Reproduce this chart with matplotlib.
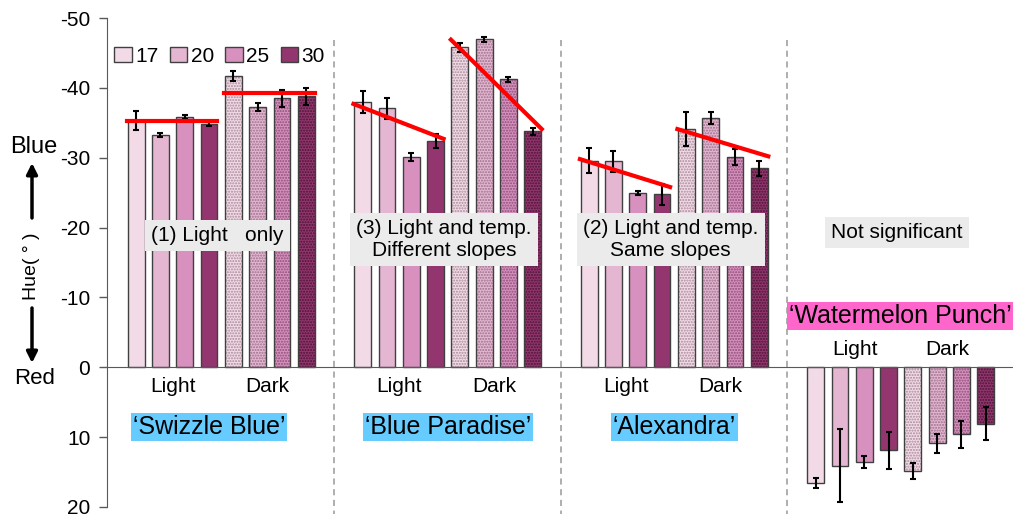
import numpy as np
import matplotlib
matplotlib.use('Agg')
import matplotlib.pyplot as plt
from matplotlib.patches import Patch

plt.rcParams['font.family'] = ['Liberation Sans', 'DejaVu Sans']
plt.rcParams['axes.unicode_minus'] = False
plt.rcParams['hatch.linewidth'] = 1.0

# data (hue in degrees)
temps = ['17', '20', '25', '30']
cultivars = ['\u2018Swizzle Blue\u2019', '\u2018Blue Paradise\u2019', '\u2018Alexandra\u2019',
             '\u2018Watermelon Punch\u2019']
hue_light = [[-35.3, -33.3, -35.8, -34.8],
             [-37.95, -37.1, -30.1, -32.4],
             [-29.6, -29.5, -25.0, -24.8],
             [16.6, 14.1, 13.6, 11.9]]
err_light = [[1.4, 0.3, 0.3, 0.3],
             [1.6, 1.5, 0.6, 1.0],
             [1.75, 1.5, 0.3, 1.5],
             [0.75, 5.2, 0.85, 2.6]]
hue_dark = [[-41.7, -37.3, -38.5, -38.8],
            [-45.8, -46.95, -41.2, -33.8],
            [-34.1, -35.7, -30.1, -28.5],
            [14.9, 10.9, 9.6, 8.05]]
err_dark = [[0.65, 0.6, 1.2, 1.2],
            [0.65, 0.35, 0.3, 0.5],
            [2.4, 0.85, 1.15, 1.05],
            [1.15, 1.35, 1.95, 2.3]]
# regression lines (start, end) for the three significant cultivars
fit_light = [(-35.3, -35.3), (-37.7, -32.7), (-29.8, -25.8)]
fit_dark = [(-39.3, -39.3), (-46.9, -34.1), (-34.1, -30.2)]
sig_labels = ['(1) Light   only', '(3) Light and temp.\nDifferent slopes',
              '(2) Light and temp.\nSame slopes', 'Not significant']

colors = ['#f2dbe7', '#e5b6d2', '#d891bf', '#93366f']
dots = ['#a88a98', '#9a7088', '#8a4f76', '#4a1434']
edge = '#404040'

fig = plt.figure(figsize=(10.13, 5.14), dpi=100)
ax = fig.add_axes([107 / 1013, 7 / 514, 906 / 1013, 489 / 514])

gstep = 9.32
w = 0.69
for g in range(4):
    x0 = g * gstep
    xl = x0 + np.arange(4)
    xd = x0 + 4 + np.arange(4)
    ax.bar(xl, hue_light[g], w, color=colors, edgecolor=edge, linewidth=1, zorder=2)
    ax.bar(xd, hue_dark[g], w, color=colors, edgecolor=dots, hatch='......', linewidth=0, zorder=2)
    ax.bar(xd, hue_dark[g], w, fill=False, edgecolor=edge, linewidth=1, zorder=2)
    ax.errorbar(xl, hue_light[g], yerr=err_light[g], fmt='none', ecolor='black',
                elinewidth=1.5, capsize=2.5, capthick=1.5, zorder=3)
    ax.errorbar(xd, hue_dark[g], yerr=err_dark[g], fmt='none', ecolor='black',
                elinewidth=1.5, capsize=2.5, capthick=1.5, zorder=3)
    if g < 3:
        ax.plot([x0 - 0.38, x0 + 3.33], fit_light[g], color='red', lw=3, zorder=4)
        ax.plot([x0 + 3.63, x0 + 7.37], fit_dark[g], color='red', lw=3, zorder=4)
        ax.text(x0 + 1.5, 2.7, 'Light', ha='center', va='center', fontsize=15)
        ax.text(x0 + 5.4, 2.7, 'Dark', ha='center', va='center', fontsize=15)
        cx = x0 + (3.0 if g == 0 else 3.5)
        ax.text(cx, 8.6, cultivars[g], ha='center', va='center', fontsize=18,
                bbox=dict(boxstyle='square,pad=0.08', fc='#66ccff', ec='none'))
        ax.text(x0 + 3.35, -18.3 if g else -18.9, sig_labels[g], ha='center', va='center',
                fontsize=15, linespacing=1.15, zorder=5,
                bbox=dict(boxstyle='square,pad=0.3', fc='#ebebeb', ec='none'))
    else:
        ax.text(x0 + 1.6, -2.6, 'Light', ha='center', va='center', fontsize=15)
        ax.text(x0 + 5.4, -2.6, 'Dark', ha='center', va='center', fontsize=15)
        ax.text(x0 - 1.1, -7.4, cultivars[g], ha='left', va='center', fontsize=18,
                bbox=dict(boxstyle='square,pad=0.08', fc='#ff66cc', ec='none'))
        ax.text(x0 + 3.35, -19.3, sig_labels[g], ha='center', va='center', fontsize=15,
                bbox=dict(boxstyle='square,pad=0.3', fc='#ebebeb', ec='none'))
    if g > 0:
        ax.vlines(x0 - (gstep - 7) / 2, -46.8, 21, colors='#999999', linestyles=(0, (4, 3)),
                  lw=1.1, clip_on=False, zorder=1)

ax.set_xlim(-1.2, 36.08)
ax.set_ylim(20, -50)
ax.set_yticks(range(-50, 21, 10))
ax.tick_params(axis='y', direction='out', length=6, width=1, pad=6, labelsize=15,
               color='#595959')
ax.set_xticks([])
for s in ['top', 'right']:
    ax.spines[s].set_visible(False)
ax.spines['bottom'].set_position(('data', 0))
ax.spines['bottom'].set_color('#595959')
ax.spines['left'].set_color('#595959')

handles = [Patch(facecolor=c, edgecolor=edge, linewidth=1) for c in colors]
ax.legend(handles, temps, loc='center left', bbox_to_anchor=(0.008, 0.922), ncol=4,
          frameon=False, fontsize=15, handlelength=0.85, handleheight=0.8,
          handletextpad=0.15, columnspacing=0.55, borderpad=0, borderaxespad=0)

# y axis label with arrows
H = 514
fig.text(34, H - 147, 'Blue', ha='center', va='center', fontsize=17, transform=None)
fig.text(35, H - 378, 'Red', ha='center', va='center', fontsize=16, transform=None)
fig.text(32, H - 266, 'Hue( \u00b0 )', ha='center', va='center', fontsize=14, rotation=90,
         transform=None)
arr = dict(arrowstyle='-|>', color='black', lw=2.5, mutation_scale=16, shrinkA=0, shrinkB=0)
ax.annotate('', xy=(32, H - 163), xytext=(32, H - 218), xycoords='figure pixels',
            textcoords='figure pixels', arrowprops=arr)
ax.annotate('', xy=(32, H - 363), xytext=(32, H - 308), xycoords='figure pixels',
            textcoords='figure pixels', arrowprops=arr)

fig.savefig('out.png', dpi=100)
